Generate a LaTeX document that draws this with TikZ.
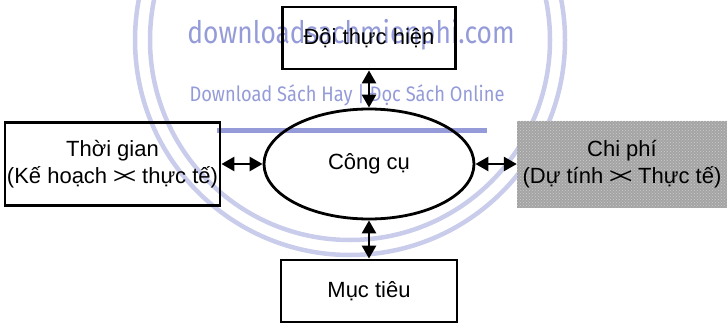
\documentclass[tikz,border=0pt]{standalone}
\usepackage{fontspec}
\setmainfont{Liberation Sans}
\newfontfamily\wmfont{Fira Sans}
\usetikzlibrary{shapes.geometric,arrows.meta,patterns}
\definecolor{wmring}{HTML}{C9CCEA}
\definecolor{wmtext}{HTML}{949BD8}
\definecolor{halftone}{HTML}{A4A4A4}
\tikzset{
  box/.style={draw=black,line width=2.8pt,inner sep=2pt,align=center,
    font=\fontsize{22}{27}\selectfont},
  grayblock/.style={fill=halftone,inner sep=2pt,align=center,
    font=\fontsize{22}{27}\selectfont},
  hub/.style={ellipse,draw=black,line width=2.8pt,inner sep=0pt,
    font=\fontsize{22}{26}\selectfont},
  link/.style={line width=2.6pt,{Triangle[length=13pt,width=14pt]}-{Triangle[length=13pt,width=14pt]}},
  ring/.style={draw=wmring,line width=4.5pt},
  wm/.style={text=wmtext,anchor=base,inner sep=0pt}
}
\begin{document}
\begin{tikzpicture}[x=1pt,y=-1pt]
\useasboundingbox (0,0) rectangle (728,327);
% watermark
\draw[ring] (350,40) circle[radius=215];
\draw[ring] (350,40) circle[radius=200];
\node[wm,font=\wmfont\fontsize{31}{33}\selectfont] (wm1) at (351,43) {\scalebox{0.85}[1]{downloadsachmienphi.com}};
\node[wm,font=\wmfont\fontsize{21}{24}\selectfont] (wm2) at (347,101) {\scalebox{0.87}[1]{Download Sách Hay | Đọc Sách Online}};
\draw[wmtext,line width=5pt] (217,130) -- (487,130);
% diagram
\node[box,minimum width=173pt,minimum height=62pt] (team) at (369,38) {Đội thực hiện};
\node[hub,minimum width=210pt,minimum height=110pt] (tool) at (369,164) {Công cụ};
\node[box,minimum width=211pt,minimum height=83pt] (time) at (112.5,164) {Thời gian\\(Kế hoạch >\kern-3pt< thực tế)};
\node[grayblock,minimum width=210pt,minimum height=87pt] (cost) at (622,164) {};
\fill[pattern=crosshatch dots,pattern color=white!80!black] (cost.north west) rectangle (cost.south east);
\node[align=center,font=\fontsize{22}{27}\selectfont] (costtext) at (cost.center) {Chi phí\\(Dự tính >\kern-3pt< Thực tế)};
\node[box,minimum width=176pt,minimum height=62pt] (goal) at (369,291) {Mục tiêu};
\draw[link] (team.south) -- (tool.north);
\draw[link] (tool.south) -- (goal.north);
\draw[link] (time.east) -- (tool.west);
\draw[link] (tool.east) -- (cost.west);
\end{tikzpicture}
\end{document}
